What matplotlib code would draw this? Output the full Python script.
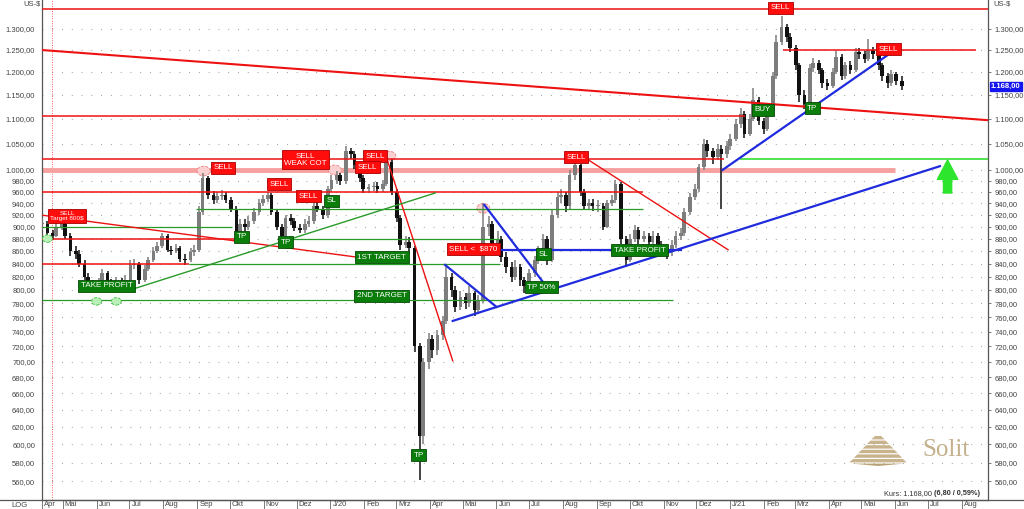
import numpy as np
import pandas as pd
import matplotlib
matplotlib.use("Agg")
import matplotlib.pyplot as plt
import matplotlib.dates as mdates
from matplotlib.patches import Ellipse, Polygon
from matplotlib.ticker import FixedLocator, FuncFormatter, NullLocator, NullFormatter

plt.rcParams['font.family'] = ['Liberation Sans', 'DejaVu Sans']

# Platin, Kerzen zu je 3 Handelstagen (Apr 2019 - Jun 2021), US-$
start_date = '2019-04-12'
closes = [
    905, 890, 885, 900, 905, 885, 860, 855, 840, 820,
    808, 805, 810, 825, 810, 808, 812, 808, 815, 838,
    840, 815, 832, 845, 860, 868, 885, 862, 860, 865,
    848, 845, 858, 862, 925, 985, 955, 945, 952, 955,
    945, 930, 885, 905, 900, 910, 925, 940, 948, 955,
    925, 900, 885, 915, 910, 898, 895, 905, 910, 935,
    930, 920, 965, 982, 990, 980, 1035, 1030, 1010, 985,
    965, 968, 970, 965, 975, 1015, 960, 915, 870, 875,
    865, 720, 610, 700, 730, 715, 735, 755, 820, 800,
    775, 790, 780, 795, 770, 785, 900, 905, 870, 880,
    850, 835, 820, 835, 815, 805, 825, 845, 860, 880,
    845, 920, 950, 955, 935, 990, 1010, 960, 935, 940,
    935, 935, 900, 940, 945, 975, 880, 845, 880, 895,
    880, 885, 875, 885, 870, 865, 858, 870, 885, 890,
    925, 950, 965, 1005, 1050, 1035, 1025, 1040, 1030, 1045,
    1060, 1090, 1110, 1070, 1100, 1140, 1095, 1080, 1115, 1190,
    1270, 1305, 1280, 1255, 1215, 1150, 1130, 1210, 1220, 1205,
    1175, 1170, 1200, 1235, 1190, 1215, 1205, 1245, 1240, 1230,
    1250, 1240, 1215, 1190, 1175, 1195, 1180, 1168,
]
highs = [
    915, 910, 895, 908, 912, 908, 890, 868, 862, 845,
    825, 815, 818, 832, 828, 816, 820, 818, 822, 845,
    848, 842, 838, 850, 866, 875, 890, 888, 868, 872,
    868, 855, 864, 870, 935, 995, 988, 962, 960, 964,
    960, 950, 935, 912, 912, 918, 932, 948, 955, 960,
    958, 928, 905, 920, 922, 915, 905, 912, 918, 942,
    942, 935, 970, 990, 998, 995, 1045, 1042, 1035, 1015,
    990, 975, 978, 977, 982, 1025, 1020, 965, 920, 885,
    882, 868, 725, 705, 738, 735, 742, 762, 840, 825,
    805, 798, 795, 805, 798, 792, 940, 918, 910, 892,
    885, 858, 842, 845, 840, 820, 832, 852, 868, 888,
    884, 928, 960, 965, 960, 1000, 1020, 1012, 965, 948,
    948, 945, 940, 946, 955, 982, 978, 885, 888, 902,
    900, 892, 890, 893, 890, 876, 870, 878, 892, 898,
    932, 958, 975, 1012, 1060, 1058, 1042, 1050, 1048, 1055,
    1070, 1100, 1122, 1115, 1110, 1165, 1145, 1102, 1125, 1200,
    1285, 1332, 1312, 1290, 1262, 1220, 1160, 1218, 1232, 1228,
    1210, 1185, 1208, 1248, 1240, 1222, 1225, 1255, 1255, 1248,
    1275, 1258, 1245, 1220, 1198, 1205, 1200, 1190,
]
lows = [
    895, 885, 878, 882, 895, 880, 852, 848, 835, 815,
    802, 800, 800, 806, 805, 802, 804, 803, 804, 812,
    832, 808, 812, 828, 842, 856, 865, 858, 854, 856,
    842, 838, 842, 852, 858, 920, 948, 938, 940, 946,
    940, 925, 880, 882, 893, 895, 905, 920, 935, 942,
    920, 895, 880, 882, 903, 893, 890, 890, 900, 905,
    924, 912, 915, 960, 975, 972, 975, 1020, 1002, 978,
    958, 958, 962, 958, 960, 970, 955, 908, 862, 865,
    855, 712, 562, 600, 690, 705, 708, 728, 750, 790,
    768, 770, 772, 775, 762, 765, 780, 885, 862, 862,
    842, 825, 812, 815, 806, 795, 800, 820, 840, 855,
    838, 842, 915, 940, 925, 930, 982, 952, 928, 928,
    926, 925, 895, 898, 935, 940, 872, 835, 842, 875,
    872, 874, 868, 870, 862, 856, 848, 852, 865, 878,
    885, 920, 945, 960, 1000, 1025, 1012, 1018, 930, 1022,
    1038, 1055, 1082, 1062, 1065, 1095, 1088, 1070, 1075, 1110,
    1185, 1262, 1268, 1245, 1205, 1135, 1120, 1125, 1200, 1195,
    1165, 1160, 1165, 1195, 1182, 1185, 1195, 1200, 1230, 1220,
    1225, 1230, 1205, 1180, 1165, 1170, 1172, 1160,
]

month_names = ['Apr', 'Mai', 'Jun', 'Jul', 'Aug', 'Sep', 'Okt', 'Nov', 'Dez', 'J/20',
               'Feb', 'Mrz', 'Apr', 'Mai', 'Jun', 'Jul', 'Aug', 'Sep', 'Okt', 'Nov', 'Dez', 'J/21',
               'Feb', 'Mrz', 'Apr', 'Mai', 'Jun', 'Jul', 'Aug']
y_ticks = [560, 580, 600, 620, 640, 660, 680, 700, 720, 740, 760, 780, 800, 820, 840, 860,
           880, 900, 920, 940, 960, 980, 1000, 1050, 1100, 1150, 1200, 1250, 1300]

# horizontale Linien: (Kurs, von, bis)
red_levels = [(1348, '2019-04-12', '2021-08-25'), (1105, '2019-04-12', '2021-01-15'),
              (1020, '2019-04-12', '2020-12-26'), (960, '2019-04-12', '2020-10-13'),
              (880, '2019-04-12', '2019-10-10'), (840, '2019-04-12', '2019-08-25'),
              (1250, '2021-02-18', '2021-08-14')]
green_levels = [(930, '2019-08-31', '2020-10-13'), (900, '2019-04-12', '2019-10-03'),
                (880, '2019-11-13', '2020-06-04'), (840, '2019-08-25', '2020-06-04'),
                (785, '2019-04-12', '2020-11-10')]
lime_levels = [(1020, '2021-01-10', '2021-08-25')]
pink_levels = [(1000, '2019-04-12', '2021-06-01')]

# Trendlinien: (von, Kurs, bis, Kurs)
red_trends = [('2019-04-13', 919, '2020-01-26', 850), ('2019-04-12', 1250, '2021-08-25', 1097),
              ('2020-02-22', 1019, '2020-04-22', 701), ('2020-08-24', 1019, '2020-12-30', 862)]
green_trends = [('2019-07-04', 801, '2020-04-06', 958)]
blue_trends = [('2020-04-15', 838, '2020-06-01', 775), ('2020-04-22', 755, '2021-07-12', 1007),
               ('2020-05-21', 937, '2020-07-13', 813), ('2020-06-04', 862, '2020-11-17', 862),
               ('2020-12-25', 1000, '2021-05-25', 1238)]

# Signale: (Text, Datum, Kurs, Farbe)
signals = [
    ('SELL\nTarget 800\\$', '2019-05-05', 918, 'red'),
    ('TAKE PROFIT', '2019-06-10', 806, 'green'),
    ('SELL', '2019-09-25', 1004, 'red'),
    ('SELL', '2019-11-15', 974, 'red'),
    ('SELL\nWEAK COT', '2019-12-09', 1019, 'red'),
    ('SELL', '2019-12-12', 952, 'red'),
    ('SL', '2020-01-02', 944, 'green'),
    ('TP', '2019-10-12', 883, 'green'),
    ('TP', '2019-11-21', 874, 'green'),
    ('SELL', '2020-02-11', 1026, 'red'),
    ('SELL', '2020-02-04', 1005, 'red'),
    ('1ST TARGET', '2020-02-17', 850, 'green'),
    ('2ND TARGET', '2020-02-17', 791, 'green'),
    ('TP', '2020-03-22', 588, 'green'),
    ('SELL <  \\$870', '2020-05-11', 863, 'red'),
    ('SL', '2020-07-14', 855, 'green'),
    ('TP 50%', '2020-07-12', 804, 'green'),
    ('SELL', '2020-08-13', 1024, 'red'),
    ('TAKE PROFIT', '2020-10-10', 861, 'green'),
    ('BUY', '2021-01-31', 1118, 'green'),
    ('TP', '2021-03-17', 1122, 'green'),
    ('SELL', '2021-02-16', 1352, 'red'),
    ('SELL', '2021-05-26', 1252, 'red'),
]
pink_marks = [('2019-09-07', 998), ('2020-01-05', 1000), ('2020-02-24', 1026), ('2020-05-20', 931)]
green_marks = [('2019-04-17', 880), ('2019-06-01', 783), ('2019-06-19', 783)]

last_price = 1168.00


def d(s):
    return mdates.date2num(pd.Timestamp(s))


def de_fmt(v, pos=None):
    s = f"{v:,.2f}"
    return s.replace(',', 'X').replace('.', ',').replace('X', '.')


fig = plt.figure(figsize=(10.24, 5.09), dpi=100)
ax = fig.add_axes([42 / 1024, 9 / 509, 946 / 1024, 500 / 509])

dates = pd.date_range(start_date, periods=len(closes), freq='3B')
x = mdates.date2num(dates)
opens = [closes[0]] + closes[:-1]
for xi, o, c, hi, lo in zip(x, opens, closes, highs, lows):
    col = '#111111' if c < o else '#7d7d7d'
    ax.vlines(xi, lo, hi, color=col, lw=1.1, zorder=3)
    ax.bar(xi, max(abs(c - o), 1.0), bottom=min(o, c), width=3.4, color=col, zorder=3)

for p, a, b in pink_levels:
    ax.hlines(p, d(a), d(b), color='#f7a0a0', lw=3.5, zorder=2)
for p, a, b in red_levels:
    ax.hlines(p, d(a), d(b), color='#ee1111', lw=1.1, zorder=4)
for p, a, b in green_levels:
    ax.hlines(p, d(a), d(b), color='#2a9a2a', lw=0.9, zorder=4)
for p, a, b in lime_levels:
    ax.hlines(p, d(a), d(b), color='#33dd33', lw=1.2, zorder=4)
for i, (a, pa, b, pb) in enumerate(red_trends):
    ax.plot([d(a), d(b)], [pa, pb], color='#ee1111', lw=1.5 if i == 1 else 1.0, zorder=4)
for a, pa, b, pb in green_trends:
    ax.plot([d(a), d(b)], [pa, pb], color='#2a9a2a', lw=1.0, zorder=4)
for a, pa, b, pb in blue_trends:
    ax.plot([d(a), d(b)], [pa, pb], color='#1f2bdd', lw=1.6, zorder=4)

for dt, p in pink_marks:
    ax.add_patch(Ellipse((d(dt), p), 12, p * 0.018, fc='#fbd0d0', ec='#f08080',
                         ls='--', lw=0.6, zorder=2.5))
for dt, p in green_marks:
    ax.add_patch(Ellipse((d(dt), p), 9, p * 0.014, fc='#b8f0b8', ec='#40c040',
                         ls='--', lw=0.6, zorder=5))

for txt, dt, p, kind in signals:
    fc, ec = ('#ff0d0d', '#aa0000') if kind == 'red' else ('#0b7d0b', '#064a06')
    fs = 4.6 if 'Target' in txt else 5.8
    ax.text(d(dt), p, txt, ha='center', va='center', color='white', fontsize=fs,
            linespacing=1.05, zorder=6,
            bbox=dict(boxstyle='square,pad=0.3', fc=fc, ec=ec, lw=0.6))

# gruener Pfeil
ax.annotate('', xy=(d('2021-07-19'), 1024), xytext=(d('2021-07-19'), 953),
            arrowprops=dict(arrowstyle='simple,head_length=1.0,head_width=1.05,tail_width=0.42',
                            fc='#2ee52e', ec='#2ee52e', mutation_scale=14), zorder=6)

# rote gepunktete Vertikale
ax.axvline(d('2019-04-21'), color='#ff5555', lw=0.7, ls=(0, (1, 1.5)), zorder=1)

ax.set_yscale('log')
ax.set_ylim(541, 1372)
ax.set_xlim(d('2019-04-12'), d('2021-08-25'))

ax.yaxis.set_major_locator(FixedLocator(y_ticks))
ax.yaxis.set_major_formatter(FuncFormatter(de_fmt))
ax.yaxis.set_minor_locator(NullLocator())
ax.yaxis.set_minor_formatter(NullFormatter())
ax.tick_params(axis='y', which='major', labelsize=5.5, labelcolor='#444444', left=False,
               right=True, labelleft=True, labelright=True, length=2.5, width=0.6,
               color='#666666', pad=2.5)
ax.grid(axis='y', color='#9a9a9a', lw=0.8, ls=(0, (0.8, 8)))

# Monate
month_starts = [d('2019-04-12')] + list(mdates.date2num(pd.date_range('2019-05-01', '2021-08-01', freq='MS')))
ax.set_xticks(month_starts)
ax.set_xticklabels([])
ax.tick_params(axis='x', length=7, width=0.6, color='#666666', direction='out')
for m, name in zip(month_starts, month_names):
    ax.annotate(name, xy=(m, 0), xycoords=('data', 'axes fraction'), xytext=(1.5, -0.5),
                textcoords='offset points', ha='left', va='top', fontsize=5.5, color='#444444')

for side in ['left', 'right', 'bottom']:
    ax.spines[side].set_color('#555555')
    ax.spines[side].set_linewidth(0.9)
ax.spines['top'].set_visible(False)

# Beschriftungen
fig.text(23 / 1024, 1 - 4 / 509, 'US-$', fontsize=5.5, color='#444444', va='center')
fig.text(993 / 1024, 1 - 4 / 509, 'US-$', fontsize=5.5, color='#444444', va='center')
fig.text(20 / 1024, 3.5 / 509, 'LOG', fontsize=5.5, color='#444444', ha='center', va='center')
fig.add_artist(plt.Line2D([0, 1], [9 / 509, 9 / 509], color='#555555', lw=0.9))
ax.text(1.003, last_price, de_fmt(last_price), transform=ax.get_yaxis_transform(),
        ha='left', va='center', fontsize=5.5, color='white', fontweight='bold', zorder=7,
        bbox=dict(boxstyle='square,pad=0.15', fc='#1515ee', ec='#1515ee'), clip_on=False)
ax.text(0.9915, 0.006, '(6,80 / 0,59%)', transform=ax.transAxes, ha='right', va='bottom',
        fontsize=5.3, fontweight='bold', color='#333333')
ax.text(0.9405, 0.006, 'Kurs: 1.168,00', transform=ax.transAxes, ha='right', va='bottom',
        fontsize=5.3, color='#333333')

# Solit Logo
lax = fig.add_axes([848 / 1024, 1 - 466 / 509, 60 / 1024, 31 / 509])
lax.set_xlim(0, 60)
lax.set_ylim(31, 0)
lax.axis('off')
for i in range(6):
    top = 1 + i * 4.6
    bot = top + 3.4
    ht = 3 + i * 4.4
    hb = ht + 3.6
    lax.add_patch(Polygon([(30 - ht, top), (30 + ht, top), (30 + hb, bot), (30 - hb, bot)],
                          closed=True, fc='#c8b38c', ec='none'))
lax.add_patch(Polygon([(4, 28.6), (56, 28.6), (30, 31)], closed=True, fc='#b9a277', ec='none'))
fig.text(946 / 1024, 1 - 450 / 509, 'Solit', fontsize=18, color='#c4b08a',
         family=['Liberation Serif', 'DejaVu Serif'], ha='center', va='center')

fig.savefig('out.png', dpi=100)
